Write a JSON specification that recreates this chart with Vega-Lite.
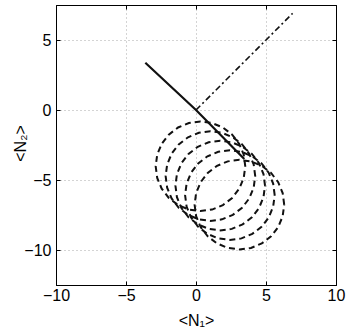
{
  "$schema": "https://vega.github.io/schema/vega-lite/v6.json",
  "width": 280,
  "height": 280,
  "autosize": {"type": "none"},
  "padding": {"left": 56, "top": 5, "right": 18, "bottom": 51},
  "background": "white",
  "config": {
    "font": "Liberation Sans",
    "view": {"stroke": "#000", "strokeWidth": 1},
    "axis": {
      "labelFont": "Liberation Sans", "labelFontSize": 16, "labelColor": "#000",
      "titleFont": "Liberation Sans", "titleFontSize": 16, "titleFontWeight": "normal", "titleColor": "#000",
      "domainColor": "#000", "tickColor": "#000", "tickSize": -4,
      "gridColor": "#a8a8a8", "gridDash": [1, 3], "gridOpacity": 1, "gridWidth": 1
    }
  },
  "datasets": {
    "circles": [
      {"c":1,"k":0,"x":3.52,"y":-4.02},{"c":1,"k":1,"x":3.411,"y":-3.192},{"c":1,"k":2,"x":3.091,"y":-2.42},{"c":1,"k":3,"x":2.583,"y":-1.757},{"c":1,"k":4,"x":1.92,"y":-1.249},{"c":1,"k":5,"x":1.148,"y":-0.929},{"c":1,"k":6,"x":0.32,"y":-0.82},{"c":1,"k":7,"x":-0.508,"y":-0.929},{"c":1,"k":8,"x":-1.28,"y":-1.249},{"c":1,"k":9,"x":-1.943,"y":-1.757},{"c":1,"k":10,"x":-2.451,"y":-2.42},{"c":1,"k":11,"x":-2.771,"y":-3.192},{"c":1,"k":12,"x":-2.88,"y":-4.02},{"c":1,"k":13,"x":-2.771,"y":-4.848},{"c":1,"k":14,"x":-2.451,"y":-5.62},{"c":1,"k":15,"x":-1.943,"y":-6.283},{"c":1,"k":16,"x":-1.28,"y":-6.791},{"c":1,"k":17,"x":-0.508,"y":-7.111},{"c":1,"k":18,"x":0.32,"y":-7.22},{"c":1,"k":19,"x":1.148,"y":-7.111},{"c":1,"k":20,"x":1.92,"y":-6.791},{"c":1,"k":21,"x":2.583,"y":-6.283},{"c":1,"k":22,"x":3.091,"y":-5.62},{"c":1,"k":23,"x":3.411,"y":-4.848},{"c":1,"k":24,"x":3.52,"y":-4.02},
      {"c":2,"k":0,"x":4.23,"y":-4.72},{"c":2,"k":1,"x":4.121,"y":-3.892},{"c":2,"k":2,"x":3.801,"y":-3.12},{"c":2,"k":3,"x":3.293,"y":-2.457},{"c":2,"k":4,"x":2.63,"y":-1.949},{"c":2,"k":5,"x":1.858,"y":-1.629},{"c":2,"k":6,"x":1.03,"y":-1.52},{"c":2,"k":7,"x":0.202,"y":-1.629},{"c":2,"k":8,"x":-0.57,"y":-1.949},{"c":2,"k":9,"x":-1.233,"y":-2.457},{"c":2,"k":10,"x":-1.741,"y":-3.12},{"c":2,"k":11,"x":-2.061,"y":-3.892},{"c":2,"k":12,"x":-2.17,"y":-4.72},{"c":2,"k":13,"x":-2.061,"y":-5.548},{"c":2,"k":14,"x":-1.741,"y":-6.32},{"c":2,"k":15,"x":-1.233,"y":-6.983},{"c":2,"k":16,"x":-0.57,"y":-7.491},{"c":2,"k":17,"x":0.202,"y":-7.811},{"c":2,"k":18,"x":1.03,"y":-7.92},{"c":2,"k":19,"x":1.858,"y":-7.811},{"c":2,"k":20,"x":2.63,"y":-7.491},{"c":2,"k":21,"x":3.293,"y":-6.983},{"c":2,"k":22,"x":3.801,"y":-6.32},{"c":2,"k":23,"x":4.121,"y":-5.548},{"c":2,"k":24,"x":4.23,"y":-4.72},
      {"c":3,"k":0,"x":4.93,"y":-5.4},{"c":3,"k":1,"x":4.821,"y":-4.572},{"c":3,"k":2,"x":4.501,"y":-3.8},{"c":3,"k":3,"x":3.993,"y":-3.137},{"c":3,"k":4,"x":3.33,"y":-2.629},{"c":3,"k":5,"x":2.558,"y":-2.309},{"c":3,"k":6,"x":1.73,"y":-2.2},{"c":3,"k":7,"x":0.902,"y":-2.309},{"c":3,"k":8,"x":0.13,"y":-2.629},{"c":3,"k":9,"x":-0.533,"y":-3.137},{"c":3,"k":10,"x":-1.041,"y":-3.8},{"c":3,"k":11,"x":-1.361,"y":-4.572},{"c":3,"k":12,"x":-1.47,"y":-5.4},{"c":3,"k":13,"x":-1.361,"y":-6.228},{"c":3,"k":14,"x":-1.041,"y":-7.0},{"c":3,"k":15,"x":-0.533,"y":-7.663},{"c":3,"k":16,"x":0.13,"y":-8.171},{"c":3,"k":17,"x":0.902,"y":-8.491},{"c":3,"k":18,"x":1.73,"y":-8.6},{"c":3,"k":19,"x":2.558,"y":-8.491},{"c":3,"k":20,"x":3.33,"y":-8.171},{"c":3,"k":21,"x":3.993,"y":-7.663},{"c":3,"k":22,"x":4.501,"y":-7.0},{"c":3,"k":23,"x":4.821,"y":-6.228},{"c":3,"k":24,"x":4.93,"y":-5.4},
      {"c":4,"k":0,"x":5.62,"y":-6.08},{"c":4,"k":1,"x":5.511,"y":-5.252},{"c":4,"k":2,"x":5.191,"y":-4.48},{"c":4,"k":3,"x":4.683,"y":-3.817},{"c":4,"k":4,"x":4.02,"y":-3.309},{"c":4,"k":5,"x":3.248,"y":-2.989},{"c":4,"k":6,"x":2.42,"y":-2.88},{"c":4,"k":7,"x":1.592,"y":-2.989},{"c":4,"k":8,"x":0.82,"y":-3.309},{"c":4,"k":9,"x":0.157,"y":-3.817},{"c":4,"k":10,"x":-0.351,"y":-4.48},{"c":4,"k":11,"x":-0.671,"y":-5.252},{"c":4,"k":12,"x":-0.78,"y":-6.08},{"c":4,"k":13,"x":-0.671,"y":-6.908},{"c":4,"k":14,"x":-0.351,"y":-7.68},{"c":4,"k":15,"x":0.157,"y":-8.343},{"c":4,"k":16,"x":0.82,"y":-8.851},{"c":4,"k":17,"x":1.592,"y":-9.171},{"c":4,"k":18,"x":2.42,"y":-9.28},{"c":4,"k":19,"x":3.248,"y":-9.171},{"c":4,"k":20,"x":4.02,"y":-8.851},{"c":4,"k":21,"x":4.683,"y":-8.343},{"c":4,"k":22,"x":5.191,"y":-7.68},{"c":4,"k":23,"x":5.511,"y":-6.908},{"c":4,"k":24,"x":5.62,"y":-6.08},
      {"c":5,"k":0,"x":6.3,"y":-6.76},{"c":5,"k":1,"x":6.191,"y":-5.932},{"c":5,"k":2,"x":5.871,"y":-5.16},{"c":5,"k":3,"x":5.363,"y":-4.497},{"c":5,"k":4,"x":4.7,"y":-3.989},{"c":5,"k":5,"x":3.928,"y":-3.669},{"c":5,"k":6,"x":3.1,"y":-3.56},{"c":5,"k":7,"x":2.272,"y":-3.669},{"c":5,"k":8,"x":1.5,"y":-3.989},{"c":5,"k":9,"x":0.837,"y":-4.497},{"c":5,"k":10,"x":0.329,"y":-5.16},{"c":5,"k":11,"x":0.009,"y":-5.932},{"c":5,"k":12,"x":-0.1,"y":-6.76},{"c":5,"k":13,"x":0.009,"y":-7.588},{"c":5,"k":14,"x":0.329,"y":-8.36},{"c":5,"k":15,"x":0.837,"y":-9.023},{"c":5,"k":16,"x":1.5,"y":-9.531},{"c":5,"k":17,"x":2.272,"y":-9.851},{"c":5,"k":18,"x":3.1,"y":-9.96},{"c":5,"k":19,"x":3.928,"y":-9.851},{"c":5,"k":20,"x":4.7,"y":-9.531},{"c":5,"k":21,"x":5.363,"y":-9.023},{"c":5,"k":22,"x":5.871,"y":-8.36},{"c":5,"k":23,"x":6.191,"y":-7.588},{"c":5,"k":24,"x":6.3,"y":-6.76}
    ],
    "solid": [
      {"x": -3.62, "y": 3.38},
      {"x": 0, "y": 0},
      {"x": 3.45, "y": -3.5}
    ],
    "dashdot": [
      {"x": 0, "y": 0},
      {"x": 6.9, "y": 6.9}
    ]
  },
  "layer": [
    {
      "data": {"name": "circles"},
      "mark": {"type": "line", "stroke": "#111", "strokeWidth": 2, "strokeDash": [6, 4]},
      "encoding": {
        "x": {"field": "x", "type": "quantitative",
              "scale": {"domain": [-10, 10], "nice": false, "zero": false},
              "axis": {"orient": "bottom", "values": [-10, -5, 0, 5, 10], "grid": true,
                       "title": "<N₁>", "labelPadding": 6, "labelFlush": false,
                       "titleX": 140, "titleY": 40, "titleAlign": "center", "titleBaseline": "alphabetic"}},
        "y": {"field": "y", "type": "quantitative",
              "scale": {"domain": [-12.5, 7.5], "nice": false, "zero": false},
              "axis": {"orient": "left", "values": [-10, -5, 0, 5], "grid": true,
                       "title": "<N₂>", "labelPadding": 9,
                       "titleX": -36, "titleY": 138, "titleAlign": "center", "titleBaseline": "middle", "titleAngle": -90}},
        "detail": {"field": "c"},
        "order": {"field": "k", "type": "quantitative"}
      }
    },
    {
      "data": {"name": "solid"},
      "mark": {"type": "line", "stroke": "#111", "strokeWidth": 2.2},
      "encoding": {
        "x": {"field": "x", "type": "quantitative",
              "axis": {"orient": "top", "values": [-10, -5, 0, 5, 10], "grid": false, "labels": false, "title": null}},
        "y": {"field": "y", "type": "quantitative",
              "axis": {"orient": "right", "values": [-10, -5, 0, 5], "grid": false, "labels": false, "title": null}}
      }
    },
    {
      "data": {"name": "dashdot"},
      "mark": {"type": "line", "stroke": "#111", "strokeWidth": 1.6, "strokeDash": [6, 3, 2, 3]},
      "encoding": {
        "x": {"field": "x", "type": "quantitative", "axis": null},
        "y": {"field": "y", "type": "quantitative", "axis": null}
      }
    }
  ],
  "resolve": {"axis": {"x": "independent", "y": "independent"}}
}
